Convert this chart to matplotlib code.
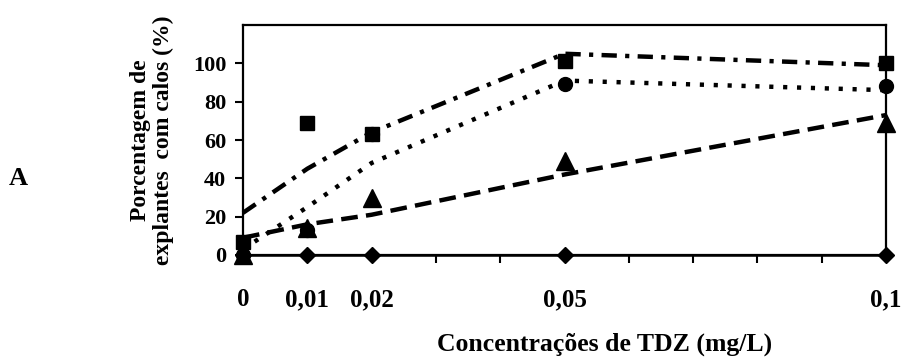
import numpy as np
import matplotlib
matplotlib.use('Agg')
import matplotlib.pyplot as plt

plt.rcParams['font.family'] = 'serif'
plt.rcParams['font.serif'] = ['Liberation Serif', 'DejaVu Serif']
plt.rcParams['font.weight'] = 'bold'
plt.rcParams['lines.scale_dashes'] = False

# TDZ concentrations (mg/L)
conc = [0, 0.01, 0.02, 0.05, 0.1]

# observed values (%)
quadrado = [7, 69, 63, 101, 100]
circulo = [0, 13, 63, 89, 88]
triangulo = [0, 14, 30, 49, 69]
losango = [0, 0, 0, 0, 0]

# trend lines
tend_quadrado = [22, 45, 64, 105, 99]
tend_circulo = [3, 25, 48, 91, 86]
tend_triangulo = [9, 16, 21, 42, 73]

xticks_lab = ['0', '0,01', '0,02', '0,05', '0,1']

fig = plt.figure(figsize=(9.16, 3.61), dpi=100)
ax = fig.add_axes([243/916, 106/361, 643/916, 230/361])

# trend lines
ax.plot(conc, tend_triangulo, color='k', lw=3.2, ls=(0, (12, 6)), clip_on=False)
ax.plot(conc, tend_circulo, color='k', lw=3.2, ls=(0, (3, 7)), clip_on=False)
ax.plot(conc, tend_quadrado, color='k', lw=3.2, ls=(0, (11, 6, 3, 6)), clip_on=False)

# diamond series with solid line
ax.plot(conc, losango, color='k', lw=1.8, marker='D', ms=8.5, clip_on=False, zorder=5)

# markers only
ax.plot(conc, circulo, 'ko', ms=10, clip_on=False, zorder=5)
ax.plot(conc, triangulo, 'k^', ms=13, clip_on=False, zorder=5)
ax.plot(conc, quadrado, 'ks', ms=10.5, clip_on=False, zorder=6)

ax.set_xlim(0, 0.1)
ax.set_ylim(0, 120)
ax.set_yticks([0, 20, 40, 60, 80, 100])
ticks = np.linspace(0, 0.1, 11)
ax.set_xticks(ticks)
labs = []
for t in ticks:
    s = ''
    for c, l in zip(conc, xticks_lab):
        if abs(c - t) < 1e-6:
            s = l
    labs.append(s)
ax.set_xticklabels(labs)

for s in ax.spines.values():
    s.set_linewidth(1.6)
ax.tick_params(axis='both', direction='out', width=1.5, length=6)
ax.tick_params(axis='x', pad=18, labelsize=18)
ax.tick_params(axis='y', pad=6, labelsize=16)

ax.set_ylabel('Porcentagem de\nexplantes  com calos (%)', fontsize=17,
              fontweight='bold', linespacing=1.1, labelpad=14)
fig.text(605/916, 1 - 344/361, 'Concentrações de TDZ (mg/L)', fontsize=18.5,
         fontweight='bold', ha='center', va='center')
fig.text(18/916, 1 - 179/361, 'A', fontsize=19, fontweight='bold',
         ha='center', va='center')

fig.savefig('out.png', dpi=100)
